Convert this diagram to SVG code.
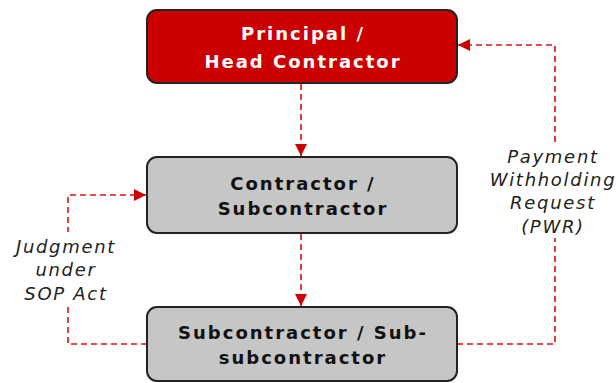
<svg xmlns="http://www.w3.org/2000/svg" width="616" height="383" viewBox="0 0 616 383">
<style>
.box{stroke:#222;stroke-width:2}
.red{fill:#cc0000}
.gray{fill:#c6c6c6}
.t{font-family:"DejaVu Sans",Verdana,sans-serif;font-weight:bold;font-size:18px;letter-spacing:2px;text-anchor:middle}
.lbl{font-family:"DejaVu Sans",Verdana,sans-serif;font-style:italic;font-size:18px;letter-spacing:1.7px;text-anchor:middle;fill:#222}
.c{fill:none;stroke:#dd1111;stroke-width:1.6;stroke-dasharray:6 4}
</style>
<defs>
<marker id="ah" viewBox="0 0 10 10" refX="10" refY="5" markerWidth="12" markerHeight="12" markerUnits="userSpaceOnUse" orient="auto">
<path d="M0,0 L10,5 L0,10 z" fill="#cc0000"/>
</marker>
</defs>
<rect width="616" height="383" fill="#fff"/>
<g id="connectors">
<path class="c" d="M301,84 V156" marker-end="url(#ah)"/>
<path class="c" d="M301,234 V306" marker-end="url(#ah)"/>
<path class="c" d="M147,344 H68 V195 H146" marker-end="url(#ah)"/>
<path class="c" d="M457,344 H555 V45 H458" marker-end="url(#ah)"/>
</g>
<g id="principal">
<rect class="box red" x="147" y="10" width="310" height="73" rx="10"/>
<text class="t" x="303" y="40" fill="#fff">Principal /</text>
<text class="t" x="303" y="68" fill="#fff">Head Contractor</text>
</g>
<g id="contractor">
<rect class="box gray" x="147" y="157" width="310" height="76" rx="10"/>
<text class="t" x="303" y="190" fill="#111">Contractor /</text>
<text class="t" x="303" y="215" fill="#111">Subcontractor</text>
</g>
<g id="subcontractor">
<rect class="box gray" x="147" y="307" width="310" height="74" rx="10"/>
<text class="t" x="303" y="339" fill="#111">Subcontractor / Sub-</text>
<text class="t" x="303" y="364" fill="#111">subcontractor</text>
</g>
<g id="label-judgment">
<rect x="12" y="232" width="110" height="72" fill="#fff"/>
<text class="lbl" x="66" y="253">Judgment</text>
<text class="lbl" x="66" y="276">under</text>
<text class="lbl" x="66" y="300">SOP Act</text>
</g>
<g id="label-pwr">
<rect x="486" y="144" width="130" height="94" fill="#fff"/>
<text class="lbl" x="553" y="163">Payment</text>
<text class="lbl" x="553" y="186">Withholding</text>
<text class="lbl" x="553" y="209">Request</text>
<text class="lbl" x="553" y="233">(PWR)</text>
</g>
</svg>
